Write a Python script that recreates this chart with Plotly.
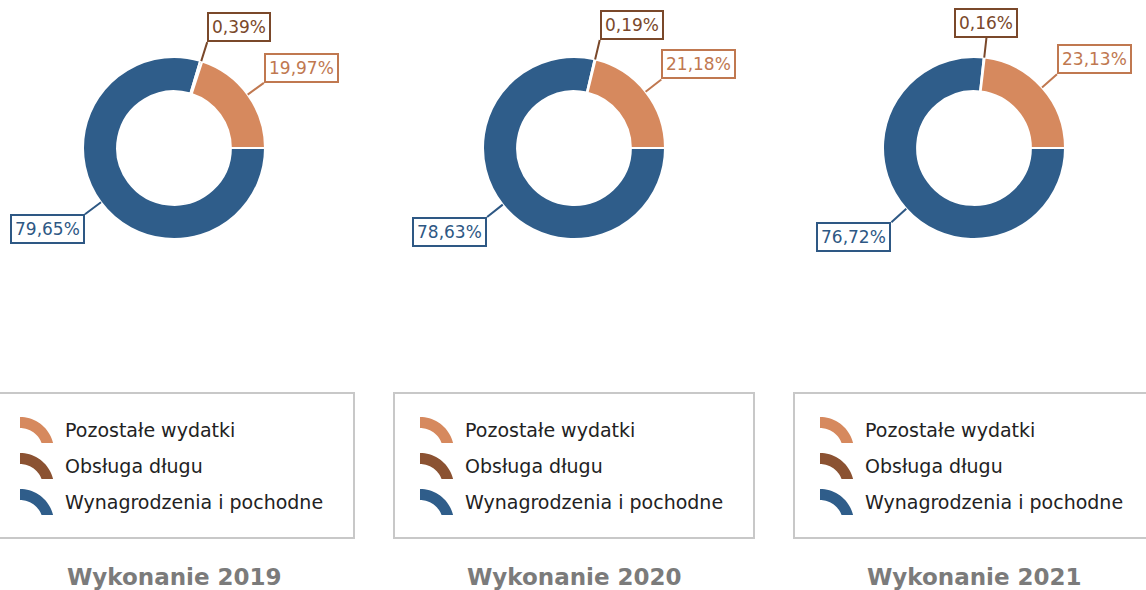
import math
import numpy as np
import plotly.graph_objects as go

# ---- data ----
categories = ["Pozostałe wydatki", "Obsługa długu", "Wynagrodzenia i pochodne"]
years = ["2019", "2020", "2021"]
values_2019 = [19.97, 0.39, 79.65]
values_2020 = [21.18, 0.19, 78.63]
values_2021 = [23.13, 0.16, 76.72]
label_texts_2019 = ["19,97%", "0,39%", "79,65%"]
label_texts_2020 = ["21,18%", "0,19%", "78,63%"]
label_texts_2021 = ["23,13%", "0,16%", "76,72%"]
titles = ["Wykonanie 2019", "Wykonanie 2020", "Wykonanie 2021"]

all_values = [values_2019, values_2020, values_2021]
all_labels = [label_texts_2019, label_texts_2020, label_texts_2021]

# ---- style ----
W, H = 1146, 590
slice_colors = ["#D6895E", "#8B5232", "#2F5D8A"]
label_colors = ["#C07850", "#7A482A", "#2E5884"]
R = 91
HOLE = 0.625
CY = 148
CX0, STEP = 174, 400
LEAD = 20

def px(x):
    return x / W

def py(y):
    return 1 - y / H

fig = go.Figure()
annotations = []
shapes = []

for i, (vals, labs) in enumerate(zip(all_values, all_labels)):
    cx = CX0 + STEP * i
    # clockwise from 3 o'clock with reversed order == counterclockwise in original order
    fig.add_trace(go.Pie(
        labels=categories[::-1], values=vals[::-1], sort=False,
        direction="clockwise", rotation=90, hole=HOLE,
        textinfo="none", hoverinfo="label+percent",
        marker=dict(colors=slice_colors[::-1], line=dict(color="white", width=2)),
        domain=dict(x=[px(cx - R), px(cx + R)], y=[py(CY + R), py(CY - R)]),
        showlegend=False,
    ))
    total = sum(vals)
    cum = 0.0
    for k, (v, t) in enumerate(zip(vals, labs)):
        a0 = cum / total * 360
        cum += v
        a1 = cum / total * 360
        th = math.radians((a0 + a1) / 2)
        c, s = math.cos(th), math.sin(th)
        hx, hy = cx + R * c, CY - R * s
        if abs(c) < 0.15:
            xa = "center"
        else:
            xa = "left" if c > 0 else "right"
        ya = "bottom" if s > 0 else "top"
        annotations.append(dict(
            x=px(hx), y=py(hy), xref="paper", yref="paper",
            ax=LEAD * c, ay=-LEAD * s, axref="pixel", ayref="pixel",
            text=t, showarrow=True, arrowhead=0, arrowwidth=2,
            arrowcolor=label_colors[k], xanchor=xa, yanchor=ya,
            font=dict(family="DejaVu Sans", size=17, color=label_colors[k]),
            bgcolor="white", bordercolor=label_colors[k], borderwidth=2,
            borderpad=3,
        ))

    # legend box
    shapes.append(dict(type="rect", xref="paper", yref="paper",
                       x0=px(cx - 180), x1=px(cx + 180), y0=py(538), y1=py(393),
                       line=dict(color="#C8C8C8", width=2), fillcolor="rgba(0,0,0,0)"))
    for k, cat in enumerate(categories):
        ty = 430 + 36 * k
        # arc icon: ring centre at bottom-left
        ox, oy = cx - 154, ty + 21
        r_out, r_in = 34, 23
        ang_o = np.linspace(math.pi / 2, math.asin(8 / r_out), 20)
        ang_i = np.linspace(math.asin(8 / r_in), math.pi / 2, 20)
        pts = [(ox + r_out * math.cos(a), oy - r_out * math.sin(a)) for a in ang_o]
        pts += [(ox + r_in * math.cos(a), oy - r_in * math.sin(a)) for a in ang_i]
        path = "M " + " L ".join(f"{px(x):.5f},{py(y):.5f}" for x, y in pts) + " Z"
        shapes.append(dict(type="path", xref="paper", yref="paper", path=path,
                           fillcolor=slice_colors[k], line=dict(width=0)))
        annotations.append(dict(
            x=px(cx - 111), y=py(ty), xref="paper", yref="paper",
            text=cat, showarrow=False, xanchor="left", yanchor="middle",
            font=dict(family="DejaVu Sans", size=19, color="#222222"),
        ))
    annotations.append(dict(
        x=px(cx), y=py(577), xref="paper", yref="paper",
        text="<b>" + titles[i] + "</b>", showarrow=False,
        xanchor="center", yanchor="middle",
        font=dict(family="DejaVu Sans", size=23, color="#7B7B7B"),
    ))

fig.update_layout(
    width=W, height=H, margin=dict(l=0, r=0, t=0, b=0),
    paper_bgcolor="white", plot_bgcolor="white",
    showlegend=False, annotations=annotations, shapes=shapes,
)

fig.write_html("out.html", config={"displayModeBar": False},
               post_script="document.body.style.margin='0';")
